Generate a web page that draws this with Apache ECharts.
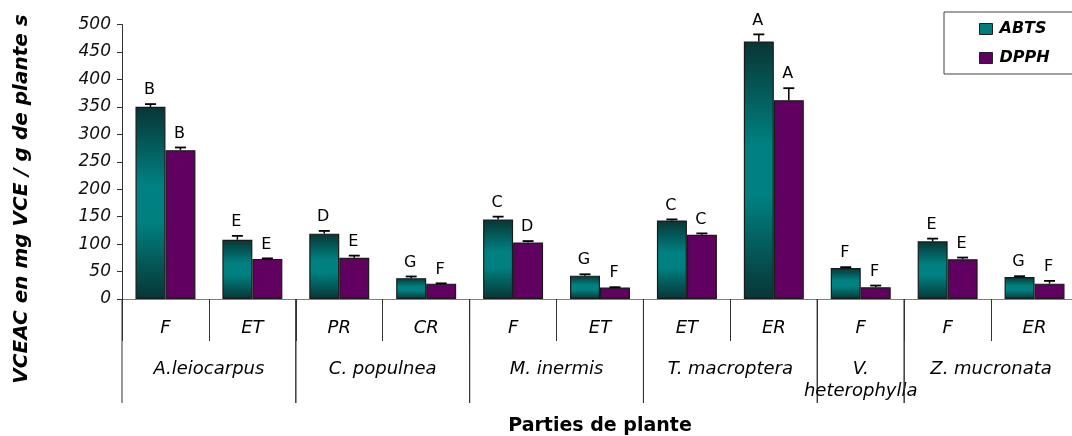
<!DOCTYPE html>
<html>
<head>
<meta charset="utf-8">
<script src="https://cdn.jsdelivr.net/npm/echarts@6/dist/echarts.min.js"></script>
<style>
html,body{margin:0;padding:0;background:#fff;}
#chart{width:1072px;height:436px;}
</style>
</head>
<body>
<div id="chart"></div>
<script>
// ---- data ----
var categories = ['F', 'ET', 'PR', 'CR', 'F', 'ET', 'ET', 'ER', 'F', 'F', 'ER'];
var groupNames = ['A.leiocarpus', 'C. populnea', 'M. inermis', 'T. macroptera', 'V.\nheterophylla', 'Z. mucronata'];
var groupSizes = [2, 2, 2, 2, 1, 2];
var abts = [350, 108, 119, 38, 145, 42.5, 143, 469, 56.5, 105, 40];
var abtsErr = [5, 7, 5, 3, 5, 2.5, 2, 13, 1.5, 5, 1.5];
var abtsLetters = ['B', 'E', 'D', 'G', 'C', 'G', 'C', 'A', 'F', 'E', 'G'];
var dpph = [271, 73, 75, 28, 103, 21, 117, 362, 21.5, 72.5, 28];
var dpphErr = [5, 1, 4, 0.5, 2.5, 0.5, 2.5, 22, 3, 3, 5];
var dpphLetters = ['B', 'E', 'E', 'F', 'D', 'F', 'C', 'A', 'F', 'E', 'F'];
var yTicks = { min: 0, max: 500, interval: 50 };

var FONT = 'DejaVu Sans';
var GAP = 0.31;

var chart = echarts.init(document.getElementById('chart'), null, { renderer: 'canvas' });

function errSeries(vals, errs, letters, side) {
  return {
    type: 'custom',
    xAxisIndex: 0,
    yAxisIndex: 0,
    clip: false,
    z: 5,
    silent: true,
    data: vals.map(function (v, i) { return [i, v, errs[i]]; }),
    renderItem: function (params, api) {
      var i = api.value(0), v = api.value(1), e = api.value(2);
      var band = api.size([1, 0])[0];
      var bw = band * (1 - GAP) / 2;
      var c = api.coord([i, v]);
      var cx = c[0] + side * bw / 2;
      var top = api.coord([i, v + e])[1];
      var cap = 5.5;
      return {
        type: 'group',
        children: [
          { type: 'line', shape: { x1: cx, y1: c[1], x2: cx, y2: top }, style: { stroke: '#000', lineWidth: 1.5 } },
          { type: 'line', shape: { x1: cx - cap, y1: top, x2: cx + cap, y2: top }, style: { stroke: '#000', lineWidth: 1.8 } },
          { type: 'text', style: { text: letters[params.dataIndex], x: cx - 1, y: top - 14, align: 'center', verticalAlign: 'middle', fontSize: 16, fontFamily: FONT, fill: '#000' } }
        ]
      };
    }
  };
}

// group boundaries built from group sizes
var groupData = [];
var acc = 0;
groupSizes.forEach(function (s, gi) {
  groupData.push([acc, acc + s, gi]);
  acc += s;
});

var option = {
  backgroundColor: '#fff',
  animation: false,
  grid: { left: 122, top: 24.5, width: 956, height: 274.5, containLabel: false, outerBoundsMode: 'none' },
  legend: {
    data: [
      { name: 'ABTS', itemStyle: { color: '#007c7c', borderColor: '#222', borderWidth: 1 } },
      { name: 'DPPH', itemStyle: { color: '#600060', borderColor: '#222', borderWidth: 1 } }
    ],
    orient: 'vertical',
    left: 944,
    top: 12,
    padding: [9, 30, 8, 35],
    itemGap: 13,
    itemWidth: 13,
    itemHeight: 11,
    icon: 'rect',
    borderColor: '#444',
    borderWidth: 1,
    textStyle: { fontFamily: FONT, fontSize: 16, fontWeight: 'bold', fontStyle: 'italic', color: '#000', padding: [0, 0, 0, 2] }
  },
  xAxis: [
    {
      type: 'category',
      data: categories,
      axisLine: { lineStyle: { color: '#808080', width: 1 } },
      axisTick: { show: true, length: 42, lineStyle: { color: '#333', width: 1 } },
      axisLabel: { interval: 0, margin: 20, fontFamily: FONT, fontSize: 18, fontStyle: 'italic', color: '#000' },
      name: 'Parties de plante',
      nameLocation: 'middle',
      nameGap: 118,
      nameTextStyle: { fontFamily: FONT, fontSize: 19, fontWeight: 'bold', color: '#000' }
    },
    {
      type: 'value',
      min: 0,
      max: categories.length,
      show: false
    }
  ],
  yAxis: {
    type: 'value',
    min: yTicks.min,
    max: yTicks.max,
    interval: yTicks.interval,
    axisLine: { show: true, lineStyle: { color: '#333', width: 1 } },
    axisTick: { show: true, length: 5, lineStyle: { color: '#333' } },
    splitLine: { show: false },
    axisLabel: { margin: 11, fontFamily: FONT, fontSize: 17, fontStyle: 'italic', color: '#111' }
  },
  graphic: [
    {
      type: 'text',
      x: 22,
      y: 199,
      rotation: Math.PI / 2,
      style: {
        text: 'VCEAC en mg VCE / g de plante s',
        align: 'center',
        verticalAlign: 'middle',
        fontFamily: FONT,
        fontSize: 20,
        fontWeight: 'bold',
        fontStyle: 'italic',
        fill: '#000'
      }
    }
  ],
  series: [
    {
      name: 'ABTS',
      type: 'bar',
      data: abts,
      barGap: '0%',
      barCategoryGap: (GAP * 100) + '%',
      itemStyle: {
        color: {
          type: 'linear', x: 0, y: 0, x2: 0, y2: 1,
          colorStops: [
            { offset: 0, color: '#083535' },
            { offset: 0.4, color: '#008080' },
            { offset: 0.6, color: '#008080' },
            { offset: 1, color: '#083535' }
          ]
        },
        borderColor: '#1a1a1a',
        borderWidth: 1.2
      }
    },
    {
      name: 'DPPH',
      type: 'bar',
      data: dpph,
      barGap: '0%',
      barCategoryGap: (GAP * 100) + '%',
      itemStyle: { color: '#600060', borderColor: '#1a1a1a', borderWidth: 1.2 }
    },
    errSeries(abts, abtsErr, abtsLetters, -1),
    errSeries(dpph, dpphErr, dpphLetters, 1),
    {
      type: 'custom',
      xAxisIndex: 1,
      yAxisIndex: 0,
      clip: false,
      silent: true,
      data: groupData,
      renderItem: function (params, api) {
        var s = api.value(0), e = api.value(1), gi = api.value(2);
        var p0 = api.coord([s, 0]);
        var p1 = api.coord([e, 0]);
        var y0 = p0[1];
        return {
          type: 'group',
          children: [
            { type: 'line', shape: { x1: p0[0], y1: y0, x2: p0[0], y2: y0 + 104 }, style: { stroke: '#333', lineWidth: 1 } },
            { type: 'line', shape: { x1: p1[0], y1: y0, x2: p1[0], y2: y0 + 104 }, style: { stroke: '#333', lineWidth: 1 } },
            { type: 'text', style: { text: groupNames[gi], x: (p0[0] + p1[0]) / 2, y: y0 + 59, align: 'center', verticalAlign: 'top', lineHeight: 22, fontFamily: FONT, fontSize: 18, fontStyle: 'italic', fill: '#000' } }
          ]
        };
      }
    }
  ]
};

chart.setOption(option);
</script>
</body>
</html>
